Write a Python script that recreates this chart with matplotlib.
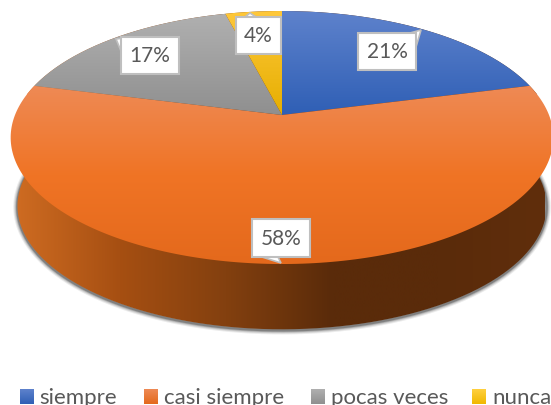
#3D-looking pie drawn by hand, matplotlib's pie has no perspective
import numpy as np
import matplotlib
matplotlib.use("Agg")
import matplotlib.pyplot as plt
from matplotlib.colors import LinearSegmentedColormap
from matplotlib.patches import PathPatch, Polygon, Rectangle
from matplotlib.path import Path

categories = ["siempre", "casi siempre", "pocas veces", "nunca"]
values = [21, 58, 17, 4]

plt.rcParams['font.family'] = ['Lato', 'DejaVu Sans']
W, H = 551, 406
fig = plt.figure(figsize=(W/100, H/100), dpi=100)
ax = fig.add_axes([0, 0, 1, 1])
ax.set_xlim(0, W)
ax.set_ylim(H, 0)
ax.axis('off')

# projection of the unit circle
cx, cy = 282, 116
R, B, k = 267, 122.5, 0.178

def project(theta, scale=1.0, drop=0.0):
    u, v = np.sin(theta), np.cos(theta)
    w = 1 + k*v
    return cx + scale*R*u/w, cy + drop - scale*B*v/w

def vgrad(clip, stops, y0, y1, xdir=False):
    cmap = LinearSegmentedColormap.from_list('g', stops)
    g = np.linspace(0, 1, 256)
    g = g.reshape(1, -1) if xdir else g.reshape(-1, 1)
    ext = (y0, y1, H, 0) if xdir else (0, W, y1, y0)
    im = ax.imshow(g, cmap=cmap, extent=ext, aspect='auto', zorder=clip.get_zorder(), interpolation='bilinear')
    ax.add_patch(clip)
    clip.set_visible(False)
    im.set_clip_path(clip)
    return im

# outline of the whole thickness
t_front = np.radians(np.linspace(80, 280, 300))
t_back = np.radians(np.linspace(280, 440, 200))
bx, by = project(t_front, 0.975, 69)
tx, ty = project(t_back)
hull = np.column_stack([np.r_[bx, tx], np.r_[by, ty]])

# soft shadow, only under the front edge
for lw, a in zip([6, 4.5, 3, 1.8], [0.1, 0.16, 0.25, 0.4]):
    ax.plot(bx, by + 1, color='#404040', lw=lw, alpha=a, zorder=1, solid_capstyle='round')

side = PathPatch(Path(hull), fc='none', ec='none', zorder=2)
vgrad(side, ['#CF6C22', '#A64F12', '#83400F', '#5A2B0A', '#5A2B0A', '#602E0C'], 13, 545, xdir=True)

# top face slices
slice_colors = [
    (['#5E82CC', '#2F5FB5'], 12, 116),
    (['#EE8A55', '#F07425', '#E4691C'], 86, 265),
    (['#B0B0B0', '#8F8F8F'], 15, 116),
    (['#FFC83A', '#E5AE00'], 12, 116),
]
fracs = np.cumsum([0] + values) / sum(values)
for i in range(len(values)):
    t = np.linspace(fracs[i], fracs[i+1], 200) * 2*np.pi
    x, y = project(t)
    pts = np.column_stack([np.r_[cx, x], np.r_[cy, y]])
    stops, y0, y1 = slice_colors[i]
    p = PathPatch(Path(np.vstack([pts, pts[0]]), closed=True), fc='none', ec='none', zorder=3)
    vgrad(p, stops, y0, y1)

# data labels: box (x0, y0, x1, y1) and tip of the little tail
label_boxes = [(358, 34, 416, 71), (252, 220, 310, 258), (121, 38, 179, 75), (236, 18, 281, 55)]
label_tails = [((410, 34), (421, 31), (416, 48)),
               ((262, 258), (281, 264), (278, 258)),
               ((121, 52), (116, 40), (132, 38)),
               ((245, 18), (250, 14), (256, 18))]
for v, b, tail in zip(values, label_boxes, label_tails):
    ax.add_patch(Polygon(tail, closed=True, fc='white', ec='#BFBFBF', lw=1.2, zorder=4))
    ax.add_patch(Rectangle((b[0], b[1]), b[2]-b[0], b[3]-b[1], fc='white', ec='#BFBFBF', lw=1.5, zorder=5))
    ax.text((b[0]+b[2])/2, (b[1]+b[3])/2, f"{v}%", ha='center', va='center', fontsize=15, color='#595959', zorder=6)

# legend, cut by the bottom edge as in the original
legend_sq = [20, 144, 311, 472]
legend_txt = [39, 164, 331, 492]
legend_stops = [['#5E82CC', '#2F5FB5'], ['#EE8A55', '#E4691C'], ['#B0B0B0', '#8F8F8F'], ['#FFD040', '#F0B800']]
for name, sx, tx_, st in zip(categories, legend_sq, legend_txt, legend_stops):
    r = Rectangle((sx, 390), 14, 15, fc='none', ec='none', zorder=3)
    vgrad(r, st, 390, 405)
    ax.text(tx_, 398, name, ha='left', va='center', fontsize=16, color='#595959', zorder=6, clip_on=True)

ax.set_xlim(0, W)
ax.set_ylim(H, 0)
fig.savefig('out.png', dpi=100)
